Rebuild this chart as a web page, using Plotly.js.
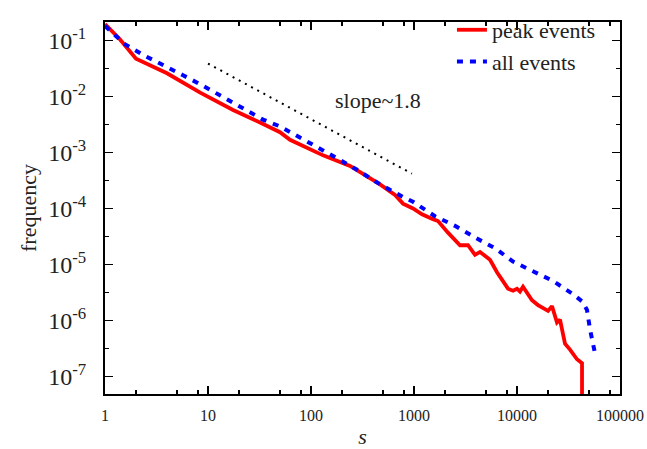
<!DOCTYPE html>
<html>
<head>
<meta charset="utf-8">
<script src="https://cdn.plot.ly/plotly-3.0.1.min.js"></script>
<style>html,body{margin:0;padding:0;background:#fff;}#chart{width:647px;height:449px;}</style>
</head>
<body>
<div id="chart"></div>
<script>
// peak events
const sPeak = [1, 1.4, 2, 4, 8.4, 17.5, 32, 50, 62.5, 98, 131, 239, 334, 468, 654, 782, 978, 1196, 1529, 1710, 2138, 2797, 3344, 3910, 4374, 5469, 6395, 7313, 8177, 9147, 10000, 10690, 11440, 13980, 15990, 20000, 21870, 24450, 26150, 29240, 32700, 38230, 42780, 42780];
const fPeak = [0.196, 0.104, 0.047, 0.0259, 0.0117, 0.00574, 0.00342, 0.0023, 0.00168, 0.00117, 8.88e-4, 5.74e-4, 4.01e-4, 2.70e-4, 1.74e-4, 1.22e-4, 1.0e-4, 7.88e-5, 6.46e-5, 5.97e-5, 3.71e-5, 2.21e-5, 2.21e-5, 1.49e-5, 1.68e-5, 1.22e-5, 7.28e-6, 5.09e-6, 3.71e-6, 3.42e-6, 3.71e-6, 3.29e-6, 4.01e-6, 2.30e-6, 1.89e-6, 1.49e-6, 1.81e-6, 9.24e-7, 1.04e-6, 3.86e-7, 3.04e-7, 2.04e-7, 1.74e-7, 1e-9];
// all events
const sAll = [1, 1.56, 2.34, 3.66, 5.72, 8.94, 14, 21.9, 34.2, 50, 83.6, 179, 280, 468, 782, 978, 1599, 2501, 3910, 6115, 9147, 14300, 22360, 34200, 42780, 47810, 51140, 57200];
const fAll = [0.181, 0.0853, 0.0551, 0.0371, 0.0239, 0.0155, 0.00961, 0.00621, 0.00386, 0.00292, 0.00174, 7.88e-4, 4.90e-4, 2.70e-4, 1.61e-4, 1.32e-4, 7.28e-5, 4.90e-5, 3.04e-5, 1.96e-5, 1.13e-5, 7.57e-6, 5.09e-6, 3.04e-6, 2.21e-6, 1.55e-6, 6.99e-7, 2.59e-7];
// guide line
const sSlope = [10, 955];
const fSlope = [0.0386, 4.18e-4];
const slopeLabel = 'slope~1.8';

const xTickVals = [1, 10, 100, 1000, 10000, 100000];
const xTickText = ['1', '10', '100', '1000', '10000', '100000'];
const yTickVals = [1e-1, 1e-2, 1e-3, 1e-4, 1e-5, 1e-6, 1e-7];
const yTickText = ['10<sup>-1</sup>', '10<sup>-2</sup>', '10<sup>-3</sup>', '10<sup>-4</sup>', '10<sup>-5</sup>', '10<sup>-6</sup>', '10<sup>-7</sup>'];
const xMinor = [];
for (let d = 1; d < 100000; d *= 10) { xMinor.push(2 * d, 5 * d, 8 * d); }
const yMinor = yTickVals.map(v => v * Math.sqrt(10)).concat([1e-7 / Math.sqrt(10)]);

const FONT = '"Liberation Serif", "Times New Roman", serif';
const TXT = '#222';

const traces = [
  {x: sPeak, y: fPeak, mode: 'lines', name: 'peak events',
   line: {color: '#ff0000', width: 3.8}},
  {x: sAll, y: fAll, mode: 'lines', name: 'all events',
   line: {color: '#0000ff', width: 4, dash: '6px,7px'}},
  {x: sSlope, y: fSlope, mode: 'lines', name: 'slope', showlegend: false,
   line: {color: '#000000', width: 2, dash: '2px,5px'}}
];

const axisCommon = {
  type: 'log', showgrid: false, zeroline: false,
  showline: true, linecolor: '#000', linewidth: 2, mirror: 'ticks',
  ticks: 'inside', ticklen: 8, tickwidth: 1.5, tickcolor: '#000',
  tickmode: 'array'
};

const layout = {
  width: 647, height: 449,
  margin: {l: 105, r: 27, t: 9, b: 55},
  paper_bgcolor: '#fff', plot_bgcolor: '#fff',
  font: {family: FONT, color: TXT},
  showlegend: true,
  legend: {x: 0.963, xanchor: 'right', y: 1.035, yanchor: 'top',
           bgcolor: 'rgba(0,0,0,0)', font: {family: FONT, size: 22, color: TXT},
           tracegroupgap: 0},
  xaxis: Object.assign({}, axisCommon, {
    range: [0, 5], tickvals: xTickVals, ticktext: xTickText,
    tickfont: {family: FONT, size: 16, color: TXT},
    ticklabelstandoff: 6,
    minor: {tickmode: 'array', tickvals: xMinor, ticks: 'inside', ticklen: 4, tickcolor: '#000', tickwidth: 1.5},
    title: {text: '<i>s</i>', font: {family: FONT, size: 22, color: TXT}, standoff: 6}
  }),
  yaxis: Object.assign({}, axisCommon, {
    range: [-7.31, -0.672], tickvals: yTickVals, ticktext: yTickText,
    tickfont: {family: FONT, size: 24, color: TXT},
    ticklabelstandoff: 12,
    minor: {tickmode: 'array', tickvals: yMinor, ticks: 'inside', ticklen: 4, tickcolor: '#000', tickwidth: 1.5},
    title: {text: 'frequency', font: {family: FONT, size: 22, color: TXT}, standoff: 6}
  }),
  annotations: [{
    x: Math.log10(447), y: Math.log10(8.5e-3), xref: 'x', yref: 'y',
    text: slopeLabel, showarrow: false,
    font: {family: FONT, size: 22, color: TXT}
  }]
};

Plotly.newPlot('chart', traces, layout, {displayModeBar: false, staticPlot: true});
</script>
</body>
</html>
